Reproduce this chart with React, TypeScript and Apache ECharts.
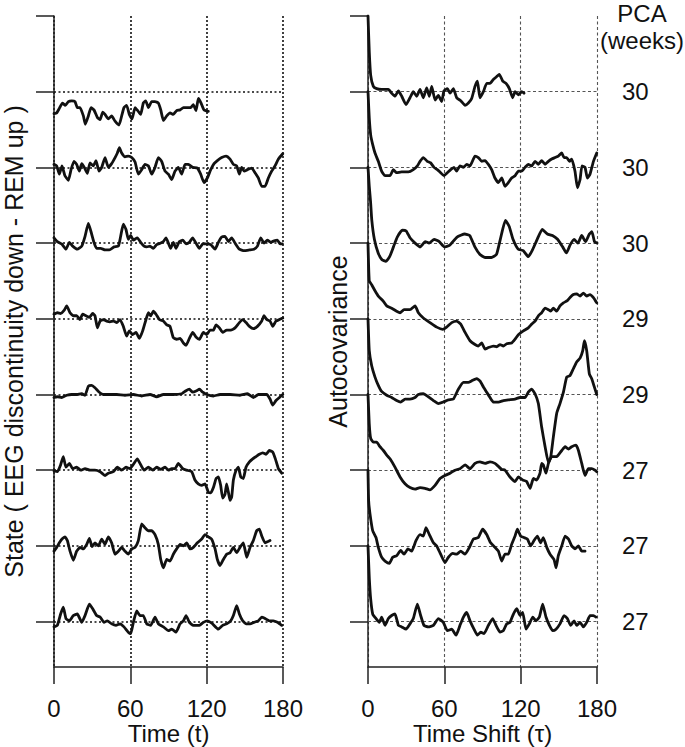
import React, { useEffect, useRef } from "react";
import * as echarts from "echarts";

// ---------- Data ----------
// Tick values for the time axes
const timeTicks = [0, 60, 120, 180];
// PCA (weeks) for rows, top to bottom
const pcaWeeks = [30, 30, 30, 29, 29, 27, 27, 27];

// Left panel: state (EEG discontinuity down - REM up), deviation from each row baseline, rows top -> bottom
const state1: [number, number][] = [[0,-0.29],[2.1,-0.28],[4.2,-0.22],[6.6,-0.15],[8.9,-0.18],[11.3,-0.13],[13.9,-0.12],[16.5,-0.13],[18.3,-0.21],[20.4,-0.21],[23.1,-0.32],[24.6,-0.43],[27,-0.32],[29.1,-0.21],[31.4,-0.24],[34.1,-0.34],[36.2,-0.37],[38.3,-0.27],[40.1,-0.3],[42.7,-0.36],[45.3,-0.32],[48,-0.39],[51.1,-0.44],[53.2,-0.32],[55,-0.21],[57.1,-0.18],[59.2,-0.3],[61.3,-0.36],[63.7,-0.21],[65.8,-0.25],[68.1,-0.3],[70.2,-0.15],[72.1,-0.12],[74.2,-0.21],[76.8,-0.13],[79.4,-0.13],[82,-0.15],[83.9,-0.24],[86,-0.38],[88.6,-0.32],[91.2,-0.28],[93.8,-0.3],[96.4,-0.25],[99.1,-0.24],[101.7,-0.21],[104.8,-0.21],[107.4,-0.21],[109.5,-0.17],[111.6,-0.25],[113.5,-0.09],[115.6,-0.15],[117.9,-0.24],[121.3,-0.26]];
const state2: [number, number][] = [[0,0.04],[2.1,0.02],[4.2,-0.09],[6.3,0.02],[8.6,-0.11],[11.3,-0.17],[13.4,-0.03],[15.7,0.08],[17.8,0.04],[19.9,-0.05],[21.8,0.05],[23.8,0],[26.2,-0.08],[28.3,0.06],[30.9,0.02],[33,0.09],[35.4,-0.05],[37.5,0],[40.1,0.13],[42.7,0],[45.3,0.05],[48,0.13],[49.8,0.19],[51.4,0.26],[53.2,0.19],[55.8,0.14],[58.4,0.15],[61.1,0.13],[63.7,0.07],[66.3,-0.09],[68.9,-0.03],[71.5,0.04],[74.2,0.02],[76.8,-0.09],[79.4,0],[82,0.13],[84.6,0.08],[87.3,-0.05],[89.9,-0.09],[92.5,-0.16],[95.1,-0.05],[97.7,0],[100.4,-0.09],[103,0.04],[105.6,0.04],[109,0],[112.7,-0.01],[115.3,-0.09],[117.9,-0.2],[120.5,-0.14],[123.2,-0.03],[125.8,0.05],[128.4,0.09],[131.8,0.13],[135.2,0.15],[138.4,0.11],[141,0.04],[143.6,0.02],[145.7,-0.09],[147.5,0],[149.6,-0.05],[152,-0.03],[155.4,-0.01],[158,-0.07],[160.6,-0.14],[163.3,-0.25],[165.9,-0.25],[168.5,-0.14],[171.1,-0.05],[173.7,0.02],[176.4,0.11],[179.8,0.18]];
const state3: [number, number][] = [[0,0.07],[2.6,0.02],[6,-0.01],[9.4,-0.08],[12.1,0.01],[14.7,-0.04],[18.3,-0.08],[21.8,-0.04],[24.4,0.09],[27,0.26],[29.1,0.15],[31.4,0.01],[33.5,-0.07],[36.7,-0.07],[40.1,-0.09],[43.5,-0.09],[47.2,-0.05],[50.6,-0.04],[52.4,0.09],[54.5,0.25],[56.6,0.18],[58.4,0.05],[60.3,0.1],[62.4,0.04],[65.5,0.07],[68.1,0.01],[70.8,-0.04],[72.9,-0.05],[75.5,-0.04],[78.1,-0.07],[80.7,-0.02],[83.9,0],[86,0.02],[88,0.07],[89.9,0],[91.7,-0.07],[93.8,0.01],[95.9,-0.07],[98.5,0.02],[101.2,0.04],[103.8,-0.01],[106.4,0.01],[109,0.07],[111.6,0],[114.3,-0.07],[116.9,-0.01],[120,-0.01],[123.2,-0.02],[126.6,-0.08],[129.2,0.01],[131.8,0.08],[134.4,0.09],[137.1,0.02],[139.7,0.07],[142.3,0],[145.7,-0.08],[149.4,-0.1],[153.6,-0.09],[157.2,-0.08],[159.9,-0.04],[162.5,0.07],[165.1,0],[167.7,0.04],[170.3,0.01],[173,0.03],[175.6,0.04],[177.7,-0.01],[179.5,-0.01]];
const state4: [number, number][] = [[0,0.06],[2.6,0.08],[5.2,0.07],[7.9,0.11],[10,0.17],[12.6,0.08],[15.2,0.04],[17.8,0.04],[20.4,-0.01],[22.5,0.06],[25.2,0.04],[27.8,0.02],[30.4,0.07],[32.2,0.04],[34.1,-0.12],[36.2,-0.03],[38.8,-0.01],[41.4,-0.03],[44,-0.04],[46.6,-0.03],[49.3,-0.05],[51.9,-0.01],[54.5,-0.1],[57.1,-0.23],[59.2,-0.16],[61.8,-0.21],[64.5,-0.18],[67.1,-0.26],[69.7,-0.16],[72.3,-0.01],[74.2,0.08],[76,0.04],[78.1,0.1],[80.2,0.06],[82.8,-0.01],[86,-0.03],[88.6,-0.08],[91.2,-0.1],[93.8,-0.25],[96.4,-0.27],[99.1,-0.26],[101.7,-0.32],[103.8,-0.35],[106.4,-0.26],[109,-0.18],[111.6,-0.24],[114.3,-0.27],[117.4,-0.18],[120,-0.21],[122.6,-0.15],[125.3,-0.15],[127.4,-0.08],[130,-0.12],[132.6,-0.18],[135.7,-0.15],[138.9,-0.15],[142.3,-0.12],[145.7,-0.05],[148.3,-0.01],[151,-0.05],[153.6,-0.1],[156.7,-0.13],[159.9,-0.1],[163.3,-0.03],[165.1,0.04],[167.2,-0.01],[169.8,-0.03],[171.9,-0.1],[174.5,-0.03],[177.2,-0.01],[179.8,0.01]];
const state5: [number, number][] = [[0,-0.04],[2.6,-0.03],[6,-0.04],[10,-0.01],[13.9,0],[17.8,0],[21.8,0.01],[24.4,-0.01],[27,0.11],[29.6,0.12],[32.2,0.09],[35.6,0.03],[38.8,0],[44,0],[49.3,0],[55.8,-0.01],[62.4,0],[68.9,-0.02],[75.5,0],[80.7,-0.03],[86,0],[93.8,0],[100.4,0.01],[103.8,0.05],[106.4,0.07],[109,0.03],[112.2,0.05],[114.3,0.07],[116.9,0.03],[120,0],[125.3,-0.02],[130.5,0],[138.4,0],[146.2,-0.01],[152,0.01],[156.7,-0.04],[160.6,0],[167.2,0],[169.8,-0.06],[171.9,-0.14],[174.5,-0.08],[177.2,-0.04],[179.8,0]];
const state6: [number, number][] = [[0,-0.01],[2.6,-0.02],[5.2,0.07],[7.3,0.18],[9.4,0.04],[12.1,0.09],[14.7,0.02],[17.8,0.04],[21,0],[24.4,0.02],[28.3,0],[32.2,0],[36.2,-0.02],[40.1,-0.07],[42.7,-0.04],[46.6,-0.02],[49.8,0.04],[53.2,0],[56.6,0.04],[59.7,0.02],[62.9,0.09],[65.5,0.15],[67.6,0.09],[70.8,0],[74.2,0.04],[77.6,0],[80.7,0.04],[83.9,0.01],[87.3,0.04],[89.9,0],[92.5,0.02],[95.1,0.02],[97.7,0.09],[101.2,0.02],[104.3,0],[108.2,-0.02],[110.8,-0.13],[113.4,-0.18],[116.1,-0.2],[118.7,-0.18],[121.3,-0.29],[123.2,-0.3],[125.3,-0.23],[127.4,-0.11],[129.2,-0.09],[131,-0.2],[132.6,-0.37],[134.4,-0.32],[135.7,-0.18],[137.3,-0.31],[138.4,-0.4],[139.7,-0.35],[141,-0.13],[143.1,0],[144.9,0.04],[146.8,-0.09],[148.8,-0.11],[150.9,0.04],[153.6,0.11],[156.2,0.15],[158.8,0.18],[161.4,0.21],[164,0.23],[166.7,0.21],[169.3,0.26],[171.9,0.24],[174,0.15],[176.4,0.02],[179,-0.04]];
const state7: [number, number][] = [[0,-0.07],[2.1,-0.02],[4.2,0.04],[6.3,0.09],[8.6,0.12],[10.5,0.07],[12.6,-0.07],[15.2,-0.19],[17.8,-0.07],[20.4,-0.02],[23.1,-0.04],[25.7,0.02],[27.8,0.1],[29.9,-0.01],[32.2,0.04],[34.9,0],[37.5,0.09],[40.1,0.02],[42.7,0.12],[45.3,0.04],[48,-0.11],[50.6,-0.07],[53.2,-0.02],[55.8,-0.07],[58.4,-0.11],[61.1,-0.04],[63.7,-0.02],[66.3,0.07],[68.9,0.29],[71.5,0.24],[74.2,0.2],[76.8,0.2],[79.4,0.15],[82,0.02],[83.9,-0.18],[86,-0.29],[88.6,-0.18],[91.2,-0.2],[93.8,-0.11],[96.4,-0.04],[99.1,0.02],[101.7,0],[104.3,0.04],[107,-0.04],[109.5,-0.02],[112.7,0.04],[116.1,0.09],[118.7,0.15],[121.3,0.12],[123.9,0.09],[126.6,-0.04],[128.4,-0.18],[130.5,-0.26],[133.1,-0.18],[135.7,-0.11],[138.4,-0.09],[141,-0.02],[143.6,-0.09],[146.2,-0.02],[148.8,0.04],[151.5,-0.15],[154.1,-0.02],[156.7,0.07],[159.3,0.2],[161.4,0.22],[163.3,0.13],[165.9,0.04],[169.8,0.07]];
const state8: [number, number][] = [[0,-0.07],[2.6,-0.05],[5.2,0.1],[7.3,0.19],[9.4,0.04],[12.1,0.01],[15.2,0.08],[18.3,0.1],[21.8,-0.01],[24.4,0.08],[27.8,0.23],[30.4,0.17],[33.5,0.08],[36.2,0.06],[39.3,-0.01],[41.9,0.01],[45.3,-0.03],[48.7,-0.05],[51.9,-0.03],[55,-0.07],[58.4,-0.14],[60.3,-0.16],[62.4,-0.01],[65,0.14],[67.6,0.08],[70.2,0.08],[72.9,-0.03],[76,-0.05],[79.4,0.06],[82,-0.03],[86,-0.07],[89.9,-0.12],[92.5,-0.1],[95.9,-0.14],[99.1,-0.03],[101.7,0.01],[103.8,0.08],[106.4,-0.01],[109.5,-0.05],[114.3,-0.05],[117.4,-0.01],[120.5,0.01],[124,-0.02],[129.2,-0.1],[132.6,-0.05],[135.7,-0.03],[138.9,0.01],[141,0.08],[143.6,0.21],[145.7,0.1],[148.3,0.01],[151,-0.03],[154.1,-0.03],[157.2,-0.01],[160.6,0.01],[163.3,0.06],[165.9,0.04],[169.3,0.01],[172.4,0.01],[175.6,-0.01],[179,-0.05]];

// Right panel: autocovariance (normalised), deviation from each row baseline, rows top -> bottom
const acov1: [number, number][] = [[0,1],[1,0.53],[2.1,0.22],[4.2,0.07],[6.8,0.04],[10.7,0.03],[16,0.03],[18.6,-0.02],[21.2,-0.06],[23.9,0.01],[26.5,-0.06],[29.9,-0.17],[33,-0.08],[35.6,0],[38.3,-0.06],[40.9,0.03],[43.5,-0.08],[46.1,0.05],[48.2,-0.06],[50.1,0.07],[52.7,-0.11],[55.3,-0.05],[57.9,-0.13],[59.7,0.01],[62.4,0.04],[64.5,-0.02],[67.1,0.04],[69.7,-0.08],[72.9,-0.12],[76.3,-0.18],[78.9,-0.15],[81.5,-0.09],[84.1,0.07],[86,0.14],[88,-0.08],[90.7,0],[93.3,0.11],[95.9,0.11],[98.5,0.16],[101.2,0.2],[103.2,0.23],[105.9,0.14],[108.5,0.11],[111.1,0.04],[113.7,-0.08],[115.6,0],[118.2,-0.04],[120.8,0],[122.6,-0.02]];
const acov2: [number, number][] = [[0,1],[1,0.65],[2.1,0.43],[3.7,0.3],[5.5,0.19],[8.1,0.08],[10.7,-0.05],[13.4,-0.11],[17.3,-0.11],[19.9,-0.03],[22.5,-0.07],[26.5,-0.06],[31.7,-0.06],[35.6,-0.03],[38.8,0.02],[40.9,0.08],[43.5,0.13],[46.6,0.08],[49.3,0.06],[51.9,0],[54.5,-0.03],[57.1,-0.07],[59.7,-0.11],[62.4,-0.07],[65,-0.03],[67.6,0],[69.7,-0.05],[72.3,0.02],[75,0],[77.6,0.04],[80.2,0.02],[82.3,0.09],[84.1,0.15],[86.7,0.13],[89.4,0.08],[92,0.09],[94.6,0.04],[97.2,-0.03],[99.8,-0.14],[102.5,-0.2],[105.1,-0.14],[107.7,-0.25],[110.3,-0.2],[112.9,-0.14],[115.6,-0.11],[118.2,-0.05],[120.8,-0.05],[123.4,0],[126,0.04],[128.7,0.02],[131.3,0.08],[133.9,0.04],[136.5,0.09],[139.2,0.04],[141.8,0.08],[144.4,0.11],[147,0.13],[149.6,0.15],[152.3,0.19],[154.1,0.13],[156.2,0.13],[158.3,0.08],[160.1,0.11],[162.7,-0.05],[164.6,-0.27],[166.7,-0.16],[168.2,0.02],[170.6,0],[172.4,-0.14],[174.5,-0.09],[177.2,0.08],[179.8,0.19]];
const acov3: [number, number][] = [[0,1],[1,0.75],[2,0.55],[3,0.3],[5,0.05],[8,-0.13],[11,-0.22],[14,-0.24],[17,-0.18],[20,-0.05],[23,0.08],[27,0.17],[30,0.16],[33,0.07],[37,0],[41,-0.05],[45,0.02],[48,0],[52,0.05],[56,0.02],[60,-0.05],[64,-0.03],[70,0.08],[76,0.12],[80,0.1],[84,-0.05],[88,-0.15],[92,-0.19],[97,-0.19],[101,-0.15],[104,0.05],[108,0.3],[111,0.22],[114,0.05],[118,-0.08],[122,-0.1],[126,-0.18],[129,-0.1],[133,0.05],[137,0.18],[141,0.12],[145,0.1],[149,0.05],[153,-0.05],[156,-0.13],[159,-0.02],[162,0.05],[165,0],[168,0.1],[171,0.02],[174,0.12],[176,0.15],[178,0.02],[180,0]];
const acov4: [number, number][] = [[0,1],[1,0.5],[2.9,0.45],[5.5,0.37],[8.1,0.3],[12.1,0.23],[14.7,0.17],[18.6,0.14],[22.5,0.1],[25.2,0.08],[28.3,0.12],[33,0.12],[37,0.17],[39.6,0.08],[43.5,0.01],[48.7,-0.05],[54,-0.11],[58.7,-0.14],[61.8,-0.11],[65.8,-0.05],[69.7,-0.03],[72.9,-0.07],[76.3,-0.18],[80.2,-0.29],[84.1,-0.34],[86.7,-0.36],[89.4,-0.32],[92,-0.4],[94.6,-0.38],[98.5,-0.36],[101.2,-0.37],[103.8,-0.34],[106.4,-0.36],[109,-0.33],[112.9,-0.32],[115.6,-0.27],[118.2,-0.21],[122.1,-0.16],[126,-0.12],[128.7,-0.07],[131.3,-0.03],[133.9,0.04],[136.5,0.08],[139.2,0.14],[141.8,0.12],[143.6,0.1],[145.7,0.14],[148.3,0.1],[150.9,0.17],[153.6,0.21],[156.7,0.24],[158.8,0.28],[161.4,0.32],[164,0.33],[166.7,0.3],[169.3,0.34],[171.9,0.3],[174.5,0.32],[177.2,0.28],[179.8,0.21]];
const acov5: [number, number][] = [[0,1],[1,0.58],[2.9,0.38],[5.5,0.23],[8.1,0.12],[10.7,0.04],[14.7,-0.01],[18.6,-0.04],[22.5,-0.08],[25.7,-0.1],[29.1,-0.06],[33,-0.06],[37,-0.04],[39.6,0],[43.5,0.01],[47.4,-0.03],[51.4,-0.08],[55.3,-0.12],[59.2,-0.1],[63.2,-0.07],[67.1,-0.06],[71,0.07],[75,0.16],[78.9,0.16],[81.5,0.18],[85.4,0.21],[88,0.18],[90.7,0.1],[93.3,0.03],[95.9,-0.04],[98.5,-0.1],[102.5,-0.1],[106.4,-0.08],[110.3,-0.07],[115.6,-0.06],[119.5,-0.04],[123.4,-0.04],[126,0.03],[128.7,0.07],[131.3,0.01],[133.9,-0.12],[136.5,-0.43],[139.2,-0.69],[141.8,-0.9],[143.6,-0.83],[145.7,-0.56],[148.3,-0.25],[150.9,-0.12],[153.6,0.03],[156.2,0.23],[158.8,0.25],[161.4,0.34],[164,0.43],[166.7,0.48],[168.8,0.58],[170.1,0.71],[171.9,0.58],[174,0.27],[175.8,0.21],[177.9,0.1],[179.8,0]];
const acov6: [number, number][] = [[0,1],[1,0.61],[2.1,0.42],[4.2,0.37],[6.8,0.37],[9.4,0.31],[12.1,0.26],[14.7,0.2],[17.3,0.15],[21.2,0.04],[25.2,-0.09],[29.1,-0.18],[33,-0.23],[37,-0.25],[40.9,-0.23],[44.8,-0.24],[48.7,-0.26],[52.7,-0.2],[56.6,-0.11],[60.5,-0.07],[64.5,-0.04],[68.4,0],[72.3,0.02],[76.3,0.07],[80.2,0.02],[84.1,0.09],[88,0.11],[92,0.09],[95.9,0.11],[99.8,0.09],[102.5,0.05],[105.1,0.01],[107.7,0],[111.6,-0.09],[115.6,-0.15],[118.2,-0.09],[121.6,-0.13],[124.7,-0.15],[127.4,-0.24],[130,-0.11],[132.6,-0.13],[135.2,-0.04],[136.5,0.09],[137.8,0.07],[139.9,-0.04],[141.8,0.09],[144.4,0.18],[148.3,0.18],[152.3,0.26],[154.9,0.31],[157.6,0.28],[160.1,0.31],[163.5,0.33],[165.4,0.26],[168,0.09],[170.6,-0.07],[173.2,0.02],[175.8,0.02],[178.5,0],[179.8,-0.02]];
const acov7: [number, number][] = [[0,1],[0.5,0.6],[1.6,0.42],[3.7,0.2],[6.3,0.11],[8.1,-0.02],[10.7,-0.15],[13.4,-0.2],[16.8,-0.23],[19.4,-0.15],[22.5,-0.13],[25.7,-0.06],[28.3,-0.11],[31.4,-0.04],[34.3,-0.07],[37.7,0.07],[40.9,0.15],[43.5,0.13],[45.6,0.24],[48.2,0.15],[51.4,0.04],[54,0],[57.1,-0.11],[60.5,-0.22],[63.2,-0.15],[66.6,-0.1],[69.7,-0.11],[72.9,-0.07],[76.3,-0.11],[79.7,-0.02],[82.8,0.09],[86.7,0.11],[90.1,0.22],[93.3,0.15],[96.4,0.04],[99.8,-0.02],[102.5,-0.07],[105.1,-0.2],[107.7,-0.11],[110.3,-0.11],[112.9,0.02],[115.6,0.13],[117.4,0.22],[120,0.13],[122.6,0.11],[125.3,0.09],[127.9,0],[130.5,0.07],[133.1,0.13],[135.7,0.04],[137.8,0.11],[140.5,-0.02],[143.1,-0.11],[146.2,-0.18],[147.8,-0.29],[149.6,-0.13],[152.3,0],[154.9,0.13],[157.6,0.09],[160.1,0],[162.7,-0.04],[165.4,0],[168,-0.07],[170.6,-0.07]];
const acov8: [number, number][] = [[0,1],[1,0.58],[2.1,0.3],[3.7,0.1],[6.3,0.04],[8.9,-0.01],[10.7,0.06],[13.4,-0.05],[16,0.04],[18.6,0.08],[21.2,0.1],[23.9,-0.05],[26.5,-0.07],[29.9,-0.1],[33,-0.03],[35.6,0.04],[38.8,0.23],[41.4,0.08],[44,-0.05],[47.4,-0.07],[51.4,-0.05],[55.3,0.04],[59.2,-0.01],[62.4,-0.12],[65.8,-0.1],[69.2,-0.18],[72.3,-0.05],[75,0.06],[77.6,0.12],[80.2,0.01],[83.3,-0.1],[86,-0.18],[88.6,-0.14],[91.2,-0.16],[94.6,-0.05],[98,0.04],[100.6,-0.05],[103.8,-0.14],[106.4,-0.12],[109,-0.03],[111.6,-0.01],[114.3,0.1],[116.9,0.17],[119.5,0.08],[121.6,0.12],[124.2,-0.1],[126.8,-0.03],[129.5,0.06],[132.1,0.01],[134.7,0.06],[137.3,0.23],[139.9,0.06],[142.6,-0.05],[145.2,-0.12],[147.8,-0.1],[150.9,-0.03],[154.1,0.08],[156.7,0.04],[159.3,-0.05],[162,0.01],[164,-0.05],[166.7,-0.01],[169.3,-0.07],[171.9,-0.01],[174.5,0.08],[177.2,0.08],[179.2,0.06]];

const stateRows = [state1, state2, state3, state4, state5, state6, state7, state8];
const acovRows = [acov1, acov2, acov3, acov4, acov5, acov6, acov7, acov8];
const rowBaselines = [8, 7, 6, 5, 4, 3, 2, 1];
const yTicks = [1, 2, 3, 4, 5, 6, 7, 8, 9];

const FONT = "'Liberation Sans', Arial, Helvetica, sans-serif";
const INK = "#111";

export default function App() {
  const ref = useRef<HTMLDivElement | null>(null);

  useEffect(() => {
    if (!ref.current) return;
    const chart = echarts.init(ref.current, undefined, { renderer: "svg" });

    const axisLineStyle = { color: "#222", width: 1.5 };
    const textStyle = { fontFamily: FONT, fontSize: 24, color: INK };

    const makeX = (gridIndex: number, name: string, gridStyle: any) => ({
      type: "value",
      gridIndex,
      min: 0,
      max: 180,
      interval: 60,
      axisLine: { show: true, onZero: false, lineStyle: axisLineStyle },
      axisTick: { show: true, length: 17, lineStyle: axisLineStyle, customValues: timeTicks },
      axisLabel: { ...textStyle, lineHeight: 16, margin: 33, customValues: timeTicks },
      splitLine: { show: true, lineStyle: gridStyle },
      name,
      nameLocation: "middle",
      nameGap: 57,
      nameMoveOverlap: false,
      nameTextStyle: { ...textStyle, lineHeight: 18 },
    });

    const makeY = (gridIndex: number, name: string, nameGap: number) => ({
      type: "value",
      gridIndex,
      min: 0.4,
      max: 9,
      axisLine: { show: true, onZero: false, lineStyle: axisLineStyle },
      axisTick: { show: true, length: 18, lineStyle: axisLineStyle, customValues: yTicks },
      axisLabel: { show: false },
      splitLine: { show: false },
      name,
      nameLocation: "middle",
      nameRotate: 90,
      nameGap,
      nameMoveOverlap: false,
      nameTextStyle: { ...textStyle, fontSize: 25 },
    });

    const series: any[] = [];
    const buildRows = (rows: [number, number][][], axisIndex: number, baseStyle: any) => {
      rows.forEach((rowData, i) => {
        const base = rowBaselines[i];
        series.push({
          type: "line",
          xAxisIndex: axisIndex,
          yAxisIndex: axisIndex,
          data: rowData.map(([t, v]) => [t, base + v]),
          symbol: "none",
          showSymbol: false,
          smooth: 0.15,
          lineStyle: { color: INK, width: 2.8, join: "round", cap: "round" },
          z: 3,
          markLine: {
            silent: true,
            symbol: ["none", "none"],
            label: { show: false },
            lineStyle: baseStyle,
            data: [{ yAxis: base }],
            z: 1,
          },
        });
      });
    };
    const leftDotted = { type: [2, 2.5], color: INK, width: 1.5 };
    const rightDashed = { type: [3, 2.5], color: "#555", width: 1.1 };
    buildRows(stateRows, 0, leftDotted);
    buildRows(acovRows, 1, rightDashed);

    chart.setOption({
      animation: false,
      backgroundColor: "#fff",
      grid: [
        { left: 54, top: 16, width: 229, height: 651, outerBoundsMode: "none", containLabel: false },
        { left: 368, top: 16, width: 229, height: 651, outerBoundsMode: "none", containLabel: false },
      ],
      xAxis: [
        makeX(0, "Time (t)", { type: [2, 2], color: INK, width: 1.6 }),
        makeX(1, "Time Shift (\u03c4)", { type: [3, 2.5], color: "#555", width: 1.1 }),
      ],
      yAxis: [
        makeY(0, "State ( EEG discontinuity down - REM up )", 28),
        makeY(1, "Autocovariance", 18),
        {
          type: "value",
          gridIndex: 1,
          position: "right",
          min: 0.4,
          max: 9,
          axisLine: { show: false },
          axisTick: { show: false },
          splitLine: { show: false },
          axisLabel: {
            ...textStyle,
            margin: 25,
            customValues: rowBaselines,
            formatter: (v: number) => String(pcaWeeks[8 - Math.round(v)]),
          },
        },
      ],
      graphic: [
        {
          type: "text",
          x: 642,
          y: 0,
          style: {
            text: "PCA\n(weeks)",
            font: `24px ${FONT}`,
            fontSize: 24,
            fontFamily: FONT,
            lineHeight: 27,
            fill: INK,
            align: "center",
            verticalAlign: "top",
            textAlign: "center",
            textVerticalAlign: "top",
          },
        },
      ],
      series,
    });

    return () => chart.dispose();
  }, []);

  return (
    <div
      ref={ref}
      style={{ position: "fixed", left: 0, top: 0, width: 685, height: 747, background: "#fff" }}
    />
  );
}
